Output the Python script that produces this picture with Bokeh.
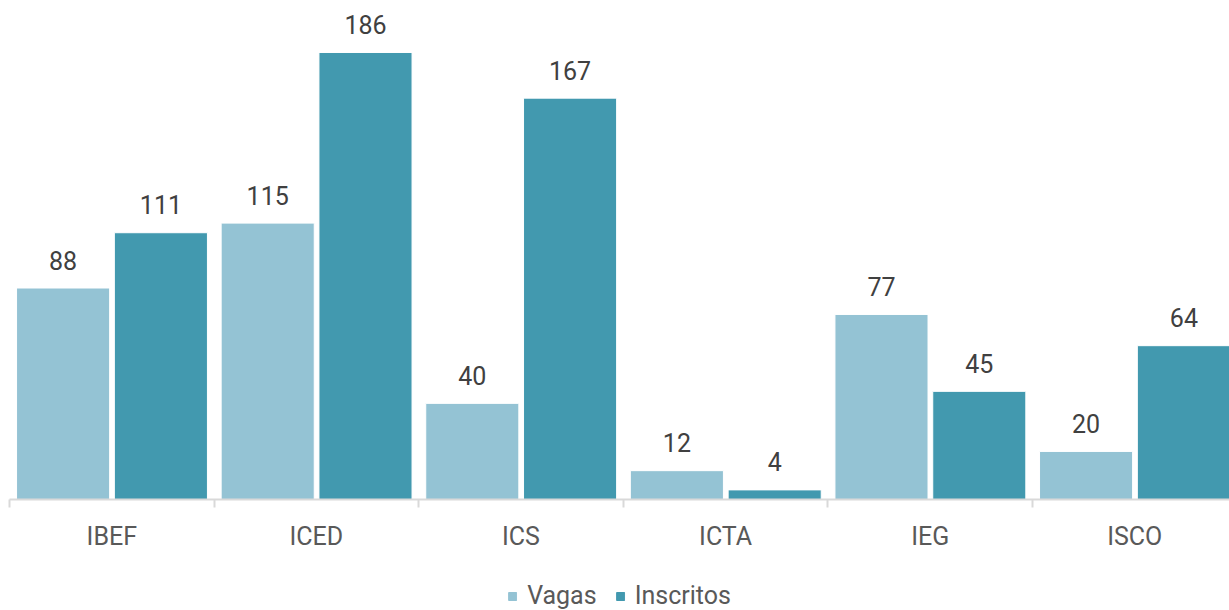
from bokeh.plotting import figure
from bokeh.models import ColumnDataSource, Range1d, FixedTicker, Legend, LegendItem, LinearAxis
from bokeh.layouts import column
from bokeh.embed import file_html
from bokeh.resources import INLINE
from bokeh.core.properties import value

categories = ["IBEF", "ICED", "ICS", "ICTA", "IEG", "ISCO"]
vagas = [88, 115, 40, 12, 77, 20]
inscritos = [111, 186, 167, 4, 45, 64]
series_names = ["Vagas", "Inscritos"]
colors = ["#94C3D4", "#4299AF"]

FONT = "Roboto"

idx = list(range(len(categories)))
src = ColumnDataSource(dict(
    idx=idx,
    x_v=[i + 0.262 for i in idx],
    x_i=[i + 0.740 for i in idx],
    vagas=vagas,
    inscritos=inscritos,
    lv=[str(v) for v in vagas],
    li=[str(v) for v in inscritos],
))

p = figure(frame_width=1220, frame_height=491, output_backend="svg", toolbar_location=None,
           x_range=Range1d(0, 5.963), y_range=Range1d(0, 204.3),
           min_border_left=9, min_border_right=0, min_border_top=8, min_border_bottom=72,
           x_axis_location=None, y_axis_location=None)
p.outline_line_color = None
p.xgrid.visible = False
p.ygrid.visible = False
p.background_fill_color = "white"
p.border_fill_color = "white"

r1 = p.vbar(x="x_v", top="vagas", width=0.455, source=src, fill_color=colors[0],
            line_color="white", line_width=1)
r2 = p.vbar(x="x_i", top="inscritos", width=0.455, source=src, fill_color=colors[1],
            line_color="white", line_width=1)

for xcol, lcol, ycol in [("x_v", "lv", "vagas"), ("x_i", "li", "inscritos")]:
    p.text(x=xcol, y=ycol, text=lcol, source=src, text_align="center",
           text_baseline="alphabetic", y_offset=-28, text_font=value(FONT),
           text_font_size="25px", text_color="#404040")

ax = LinearAxis(ticker=FixedTicker(ticks=[i + 0.5 for i in idx], minor_ticks=list(range(len(categories) + 1))))
ax.major_label_overrides = {i + 0.5: c for i, c in zip(idx, categories)}
ax.axis_line_color = "#D9D9D9"
ax.axis_line_width = 2
ax.major_tick_line_color = None
ax.major_tick_out = 0
ax.major_tick_in = 0
ax.minor_tick_line_color = "#D9D9D9"
ax.minor_tick_line_width = 2
ax.minor_tick_out = 8
ax.minor_tick_in = 0
ax.major_label_standoff = 14
ax.major_label_text_font = FONT
ax.major_label_text_font_size = "25px"
ax.major_label_text_color = "#595959"
p.add_layout(ax, "below")

# legend strip: proxy bars carry no drawable coordinates, only their legend swatches show
lg = figure(width=1229, height=39, output_backend="svg", toolbar_location=None,
            x_range=Range1d(0, 1), y_range=Range1d(0, 1),
            min_border_left=0, min_border_right=0, min_border_top=0, min_border_bottom=0,
            x_axis_location=None, y_axis_location=None)
lg.outline_line_color = None
lg.xgrid.visible = False
lg.ygrid.visible = False
lg.background_fill_color = "white"
lg.border_fill_color = "white"
proxy = ColumnDataSource(dict(x=[float("nan")], top=[float("nan")]))
d1 = lg.vbar(x="x", top="top", width=0.1, source=proxy, fill_color=colors[0], line_color=colors[0])
d2 = lg.vbar(x="x", top="top", width=0.1, source=proxy, fill_color=colors[1], line_color=colors[1])

legend = Legend(items=[LegendItem(label=series_names[0], renderers=[d1]),
                       LegendItem(label=series_names[1], renderers=[d2])],
                orientation="horizontal", location="bottom_center")
legend.label_text_font = FONT
legend.label_text_font_size = "25px"
legend.label_text_color = "#595959"
legend.glyph_width = 10
legend.glyph_height = 10
legend.label_standoff = 10
legend.spacing = 18
legend.padding = 0
legend.margin = 0
legend.border_line_color = None
legend.background_fill_alpha = 0
legend.label_height = 20
lg.add_layout(legend, "center")

layout = column(p, lg, spacing=0)
open("out.html", "w").write(file_html(layout, INLINE))
